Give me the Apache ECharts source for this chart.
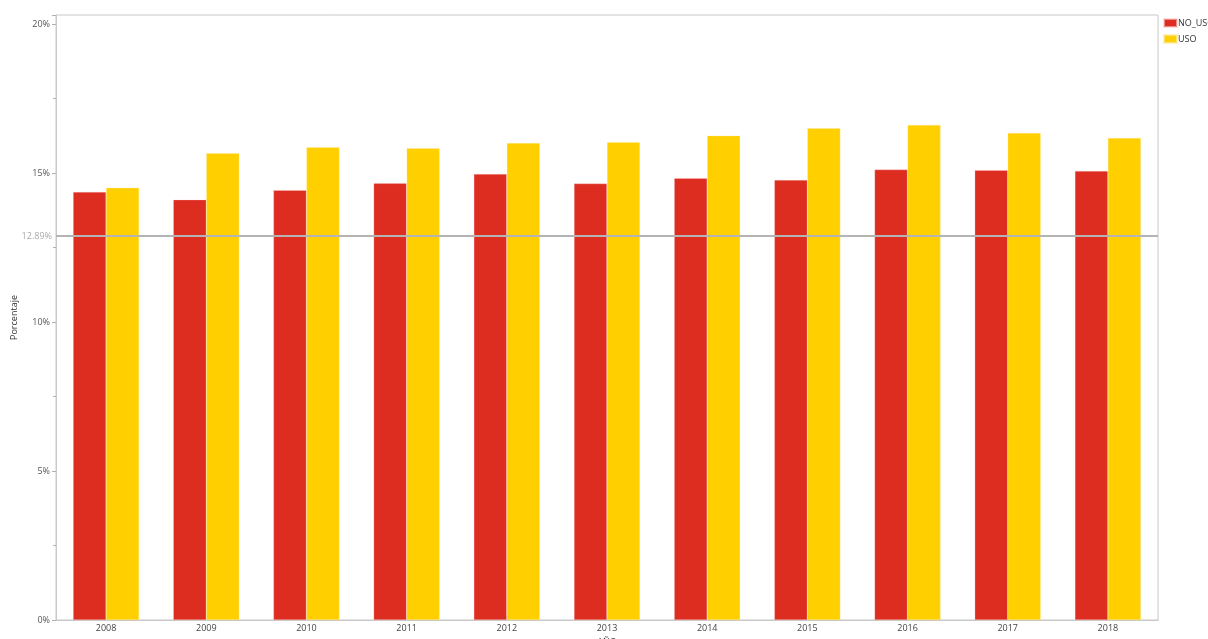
<!DOCTYPE html>
<html>
<head>
<meta charset="utf-8">
<script src="https://cdn.jsdelivr.net/npm/echarts@6/dist/echarts.min.js"></script>
<style>html,body{margin:0;padding:0;background:#fff}#c{width:1208px;height:639px}</style>
</head>
<body>
<div id="c"></div>
<script>
const years = ['2008','2009','2010','2011','2012','2013','2014','2015','2016','2017','2018'];
const noUso = [14.37,14.11,14.43,14.66,14.97,14.65,14.83,14.77,15.12,15.10,15.07];
const uso = [14.51,15.67,15.87,15.84,16.01,16.04,16.26,16.51,16.62,16.35,16.18];
const refValue = 12.89;
const seriesNames = ['NO_USO','USO'];

const font = 'Open Sans';
const chart = echarts.init(document.getElementById('c'));
chart.setOption({
  animation: false,
  textStyle: {fontFamily: font},
  grid: {left: 56, right: 50, top: 15, bottom: 19, show: true, borderColor: '#c8c8c8', borderWidth: 1,
         containLabel: false, outerBoundsMode: 'none'},
  legend: {
    orient: 'vertical', left: 1163, top: 18, padding: 0, itemWidth: 13, itemHeight: 8, itemGap: 6,
    icon: 'rect', textStyle: {fontSize: 9, color: '#333', fontFamily: font, padding: [0,0,0,-4], overflow: 'none', width: 200},
    data: seriesNames
  },
  xAxis: {
    type: 'category', data: years,
    name: 'AÑO', nameLocation: 'middle', nameGap: 12,
    nameTextStyle: {fontSize: 9, color: '#333'},
    axisLine: {lineStyle: {color: '#c8c8c8'}},
    axisTick: {show: false},
    axisLabel: {fontSize: 9, color: '#444', margin: 4}
  },
  yAxis: {
    type: 'value', min: 0, max: 20.31, interval: 5,
    name: 'Porcentaje', nameLocation: 'middle', nameGap: 37,
    nameTextStyle: {fontSize: 9, color: '#333'},
    axisLine: {show: true, lineStyle: {color: '#c8c8c8'}},
    axisTick: {show: true, length: 4, lineStyle: {color: '#b0b0b0'}},
    minorTick: {show: true, splitNumber: 2, length: 3, lineStyle: {color: '#b0b0b0'}},
    splitLine: {show: false},
    axisLabel: {fontSize: 9, color: '#555', margin: 6,
      formatter: v => (Math.abs(v % 5) < 1e-9 ? v + '%' : '')}
  },
  series: [
    {
      name: seriesNames[0], type: 'bar', data: noUso, barWidth: 33, barGap: '0%',
      itemStyle: {color: '#dd2c20', borderColor: 'rgba(255,200,200,0.6)', borderWidth: 0.5},
      markLine: {
        silent: true, symbol: 'none',
        lineStyle: {color: '#b4b4b4', width: 2, type: 'solid'},
        label: {position: 'start', formatter: refValue + '%', color: '#aaa', fontSize: 9, distance: 4},
        data: [{yAxis: refValue}]
      }
    },
    {
      name: seriesNames[1], type: 'bar', data: uso, barWidth: 33,
      itemStyle: {color: '#ffcf00', borderColor: 'rgba(255,235,160,0.7)', borderWidth: 0.5}
    }
  ]
});
</script>
</body>
</html>
